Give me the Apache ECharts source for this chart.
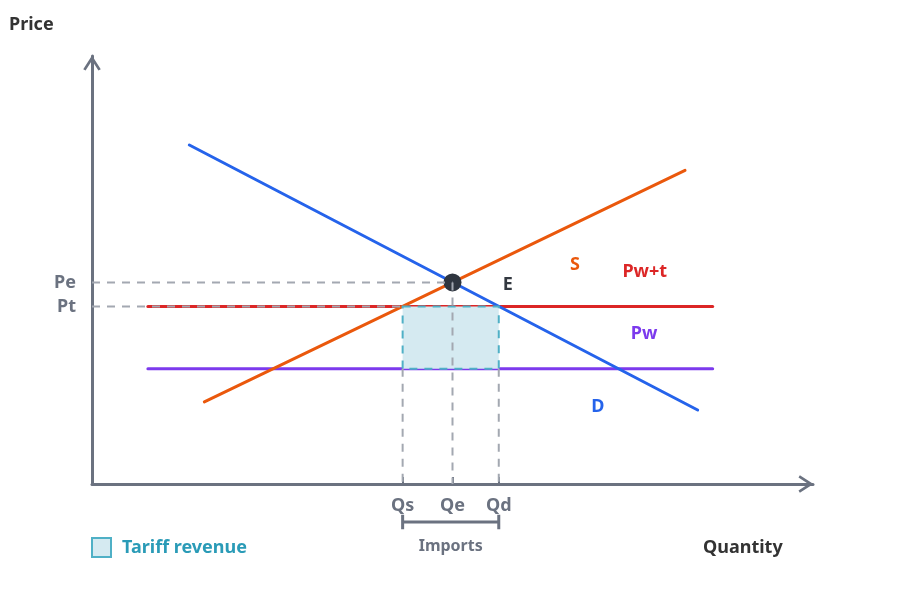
<!DOCTYPE html>
<html>
<head>
<meta charset="utf-8">
<script src="https://cdn.jsdelivr.net/npm/echarts@6/dist/echarts.min.js"></script>
<style>
  html, body { margin: 0; padding: 0; background: #fff; }
  #chart { width: 900px; height: 589px; }
</style>
</head>
<body>
<div id="chart"></div>
<script>
// axis ranges (arbitrary units)
const xMax = 120;
const yMax = 100;

// demand and supply curves (quantity, price)
const demandQ = [16.2, 100.8];
const demandP = [79.2, 17.3];
const supplyQ = [18.7, 98.7];
const supplyP = [19.2, 73.3];

// world price lines
const worldQ = [9.3, 103.3];
const priceTariff = 41.5;   // Pw+t
const priceWorld = 26.9;    // Pw

// equilibrium
const eqQ = 60;
const eqP = 47.1;

// tick labels
const priceTickNames = ["Pe", "Pt"];
const priceTickValues = [eqP, priceTariff];
const qtyTickNames = ["Qs", "Qe", "Qd"];
const qtyTickValues = [51.7, eqQ, 67.7];

// curve labels
const curveNames = ["S", "Pw+t", "Pw", "D", "E"];
const curveLabelQ = [80.4, 92.0, 91.9, 84.2, 69.2];
const curveLabelP = [51.2, 49.5, 35.0, 18.0, 46.5];
const curveColors = ["#ea580c", "#dc2626", "#7c3aed", "#2563eb", "#333840"];

// imports bracket (below the axis)
const bracketP = -8.9;
const importsLabelP = -14.5;

const FONT = "Noto Sans";
const GRAY = "#6b7280";
const DASH = "#a3a8b1";

const zip = (a, b) => a.map((v, i) => [v, b[i]]);

const chart = echarts.init(document.getElementById("chart"));

const chevron = "path://M0,14 L9,0 L18,14 L15.6,15.4 L9,5.2 L2.4,15.4 Z";

const axisBase = {
    type: "value",
    splitLine: { show: false },
    axisLine: {
        show: true,
        symbol: ["none", chevron],
        symbolSize: [19, 15],
        symbolOffset: [0, -7],
        lineStyle: { color: GRAY, width: 3, cap: "round" }
    }
};

const dashStyle = { color: DASH, width: 2, type: [8, 7] };

const dashed = (name, data) => ({
    name: name,
    type: "line",
    data: data,
    symbol: "none",
    lineStyle: dashStyle,
    z: 5,
    silent: true
});

const option = {
    animation: false,
    grid: { left: 92, right: 87, top: 56, bottom: 105 },
    xAxis: Object.assign({}, axisBase, {
        min: 0,
        max: xMax,
        axisTick: {
            show: true,
            inside: true,
            length: 7,
            customValues: qtyTickValues,
            lineStyle: { color: GRAY, width: 2 }
        },
        axisLabel: {
            show: true,
            customValues: qtyTickValues,
            margin: 13,
            fontFamily: FONT,
            fontSize: 18,
            fontWeight: "bold",
            color: GRAY,
            formatter: v => qtyTickNames[qtyTickValues.indexOf(v)] || ""
        }
    }),
    yAxis: Object.assign({}, axisBase, {
        min: 0,
        max: yMax,
        axisTick: { show: false },
        axisLabel: {
            show: true,
            customValues: priceTickValues,
            margin: 16,
            padding: [4, 0, 0, 0],
            fontFamily: FONT,
            fontSize: 18,
            fontWeight: "bold",
            color: GRAY,
            formatter: v => priceTickNames[priceTickValues.indexOf(v)] || ""
        }
    }),
    legend: {
        left: 91,
        top: 537,
        padding: 0,
        itemWidth: 19,
        itemHeight: 19,
        selectedMode: false,
        data: [{
            name: "Tariff revenue",
            icon: "rect",
            itemStyle: { color: "#d5eaf1", borderColor: "#4fb0c6", borderWidth: 2 }
        }],
        textStyle: {
            fontFamily: FONT,
            fontSize: 18,
            fontWeight: "bold",
            color: "#2a9bb7",
            padding: [0, 0, 0, 6]
        }
    },
    graphic: [
        {
            type: "text", left: 9, top: 16,
            style: { text: "Price", fontFamily: FONT, fontSize: 18, fontWeight: "bold", fill: "#333" }
        },
        {
            type: "text", left: 703, top: 539,
            style: { text: "Quantity", fontFamily: FONT, fontSize: 18, fontWeight: "bold", fill: "#333" }
        }
    ],
    series: [
        {
            name: "Tariff revenue",
            type: "custom",
            itemStyle: { color: "#d5eaf1" },
            z: 3,
            data: [[qtyTickValues[0], priceTariff, qtyTickValues[2], priceWorld]],
            renderItem: (params, api) => {
                const p1 = api.coord([api.value(0), api.value(1)]);
                const p2 = api.coord([api.value(2), api.value(3)]);
                return {
                    type: "rect",
                    shape: { x: p1[0], y: p1[1], width: p2[0] - p1[0], height: p2[1] - p1[1] },
                    style: { fill: "#d5eaf1", stroke: "#4fb0c6", lineWidth: 2, lineDash: [8, 7] },
                    z2: 10
                };
            }
        },
        {
            name: "Pw",
            type: "line",
            data: zip(worldQ, [priceWorld, priceWorld]),
            symbol: "none",
            lineStyle: { color: "#7c3aed", width: 3, cap: "round" },
            z: 2
        },
        {
            name: "Pw+t",
            type: "line",
            data: zip(worldQ, [priceTariff, priceTariff]),
            symbol: "none",
            lineStyle: { color: "#dc2626", width: 3, cap: "round" },
            z: 2
        },
        {
            name: "S",
            type: "line",
            data: zip(supplyQ, supplyP),
            symbol: "none",
            lineStyle: { color: "#ea580c", width: 3, cap: "round" },
            z: 2
        },
        {
            name: "D",
            type: "line",
            data: zip(demandQ, demandP),
            symbol: "none",
            lineStyle: { color: "#2563eb", width: 3, cap: "round" },
            z: 2
        },
        dashed("Pe guide", [[0, eqP], [eqQ, eqP]]),
        dashed("Pt guide", [[0, priceTariff], [qtyTickValues[0], priceTariff]]),
        dashed("Qs guide", [[qtyTickValues[0], priceWorld], [qtyTickValues[0], 0]]),
        dashed("Qe guide", [[eqQ, eqP], [eqQ, 0]]),
        dashed("Qd guide", [[qtyTickValues[2], priceWorld], [qtyTickValues[2], 0]]),
        {
            name: "E",
            type: "scatter",
            data: [[eqQ, eqP]],
            symbolSize: 18,
            itemStyle: { color: "#2f3640", opacity: 1 },
            z: 4
        },
        {
            name: "Imports bracket",
            type: "line",
            data: [
                [qtyTickValues[0], bracketP + 1.7], [qtyTickValues[0], bracketP - 1.7], null,
                [qtyTickValues[0], bracketP], [qtyTickValues[2], bracketP], null,
                [qtyTickValues[2], bracketP + 1.7], [qtyTickValues[2], bracketP - 1.7]
            ],
            connectNulls: false,
            symbol: "none",
            clip: false,
            lineStyle: { color: GRAY, width: 3 },
            silent: true
        },
        {
            name: "Labels",
            type: "scatter",
            clip: false,
            symbolSize: 0,
            silent: true,
            itemStyle: { opacity: 1 },
            z: 6,
            data: curveNames.map((n, i) => ({
                value: [curveLabelQ[i], curveLabelP[i]],
                label: { formatter: n, color: curveColors[i] }
            })).concat([{
                value: [(qtyTickValues[0] + qtyTickValues[2]) / 2, importsLabelP],
                label: { formatter: "Imports", color: GRAY, fontSize: 16 }
            }]),
            label: {
                show: true,
                position: "inside",
                fontFamily: FONT,
                fontSize: 18,
                fontWeight: "bold"
            }
        }
    ]
};

chart.setOption(option);
</script>
</body>
</html>
